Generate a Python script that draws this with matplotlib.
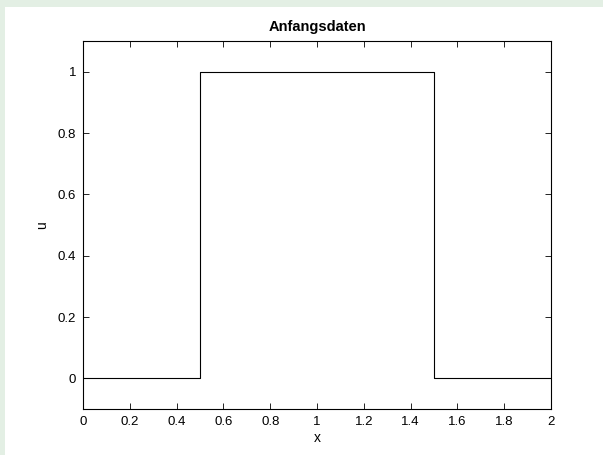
import numpy as np
import matplotlib
matplotlib.use('Agg')
import matplotlib.pyplot as plt
from matplotlib.patches import Rectangle

plt.rcParams['font.family'] = ['Liberation Sans', 'DejaVu Sans']

# Anfangsdaten: Rechteckimpuls
x = [0, 0.5, 0.5, 1.5, 1.5, 2]
u = [0, 0, 1, 1, 0, 0]
xticks = [0, 0.2, 0.4, 0.6, 0.8, 1, 1.2, 1.4, 1.6, 1.8, 2]
yticks = [0, 0.2, 0.4, 0.6, 0.8, 1]

fig = plt.figure(figsize=(6.03, 4.55), dpi=100)
fig.patch.set_facecolor('white')

# hellgruener Rand oben und links
green = '#e3efe4'
fig.patches.append(Rectangle((0, 1 - 7 / 455), 1, 7 / 455, transform=fig.transFigure,
                             facecolor=green, edgecolor='none', zorder=0))
fig.patches.append(Rectangle((0, 0), 5 / 603, 1, transform=fig.transFigure,
                             facecolor=green, edgecolor='none', zorder=0))

ax = fig.add_axes([83 / 603, 46 / 455, 468 / 603, 368 / 455])
ax.plot(x, u, color='black', linewidth=0.8)
ax.set_xlim(0, 2)
ax.set_ylim(-0.1, 1.1)
ax.set_xticks(xticks)
ax.set_xticklabels([f'{v:g}' for v in xticks])
ax.set_yticks(yticks)
ax.set_yticklabels([f'{v:g}' for v in yticks])
ax.tick_params(direction='in', top=True, right=True, length=4, width=0.6,
               labelsize=9.5, pad=5)
for s in ax.spines.values():
    s.set_linewidth(0.8)
ax.set_xlabel('x', fontsize=10)
ax.set_ylabel('u', fontsize=10)
ax.xaxis.set_label_coords(0.5, -0.06)
ax.yaxis.set_label_coords(-0.073, 0.5)
ax.set_title('Anfangsdaten', fontsize=10.5, fontweight='bold', pad=7.5)

fig.savefig('out.png', dpi=100)
